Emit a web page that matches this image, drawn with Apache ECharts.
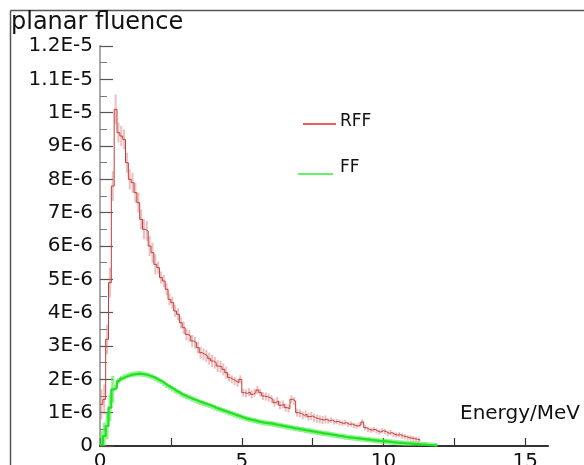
<!DOCTYPE html>
<html>
<head>
<meta charset="utf-8">
<script src="https://cdn.jsdelivr.net/npm/echarts@6.0.0/dist/echarts.min.js"></script>
<style>
  html, body { margin: 0; padding: 0; background: #ffffff; }
  #chart { width: 584px; height: 465px; }
</style>
</head>
<body>
<div id="chart"></div>
<script>
// Histogram bin width in MeV; bins start at 0.
const binWidth = 0.1;
// Values are in units of 1E-6 (planar fluence per bin).
const UNIT = 1e-6;

const rffValues = [
  1.25, 1.4, 3.2, 4.9, 7.8, 10.1, 9.4, 9.3, 9.2, 8.5,
  8.0, 7.9, 7.6, 7.3, 6.8, 6.5, 6.45, 6.0, 5.8, 5.45,
  5.35, 5.05, 4.95, 4.7, 4.4, 4.3, 4.05, 3.95, 3.7, 3.55,
  3.35, 3.3, 3.15, 3.1, 2.95, 2.8, 2.75, 2.7, 2.62, 2.55,
  2.5, 2.4, 2.38, 2.3, 2.2, 2.05, 2.0, 1.95, 1.9, 2.0,
  1.6, 1.58, 1.62, 1.55, 1.6, 1.68, 1.6, 1.5, 1.48, 1.45,
  1.4, 1.3, 1.35, 1.22, 1.25, 1.15, 1.12, 1.4, 1.35, 1.0,
  0.98, 0.92, 0.95, 0.88, 0.9, 0.85, 0.82, 0.8, 0.78, 0.8,
  0.75, 0.78, 0.72, 0.74, 0.7, 0.68, 0.7, 0.65, 0.66, 0.62,
  0.6, 0.63, 0.72, 0.55, 0.5, 0.48, 0.5, 0.45, 0.42, 0.46,
  0.43, 0.38, 0.4, 0.35, 0.33, 0.34, 0.3, 0.28, 0.25, 0.24,
  0.22, 0.2, 0.18
];

const ffValues = [
  0.05, 0.3, 0.6, 1.15, 1.7, 1.75, 1.95, 2.02, 2.07, 2.1,
  2.13, 2.15, 2.16, 2.17, 2.16, 2.15, 2.13, 2.1, 2.07, 2.03,
  1.98, 1.94, 1.88, 1.82, 1.77, 1.72, 1.66, 1.62, 1.56, 1.52,
  1.48, 1.45, 1.41, 1.38, 1.34, 1.31, 1.28, 1.25, 1.22, 1.19,
  1.15, 1.12, 1.09, 1.06, 1.03, 1.0, 0.97, 0.94, 0.91, 0.88,
  0.85, 0.82, 0.8, 0.78, 0.76, 0.74, 0.72, 0.7, 0.69, 0.68,
  0.67, 0.65, 0.63, 0.62, 0.6, 0.58, 0.57, 0.55, 0.53, 0.52,
  0.5, 0.49, 0.47, 0.46, 0.44, 0.43, 0.41, 0.4, 0.38, 0.37,
  0.36, 0.34, 0.33, 0.31, 0.3, 0.29, 0.27, 0.26, 0.25, 0.24,
  0.23, 0.22, 0.21, 0.2, 0.19, 0.18, 0.17, 0.16, 0.15, 0.145,
  0.14, 0.13, 0.12, 0.11, 0.1, 0.095, 0.09, 0.08, 0.075, 0.07,
  0.065, 0.06, 0.05, 0.045, 0.04, 0.03, 0.025, 0.02, 0.01
];

// Error half-widths (units of 1E-6) over ranges of bin indices [from, to).
const rffErrBands = [[0, 6, 0.45], [6, 20, 0.3], [20, 45, 0.18], [45, 80, 0.12], [80, 113, 0.08]];
const ffErrBands = [[0, 5, 0.4], [5, 119, 0.08]];

const xTickValues = [0, 2.5, 5, 7.5, 10, 12.5, 15];
const xLabelValues = [0, 5, 10, 15];
const yTickLabels = ['0', '1E-6', '2E-6', '3E-6', '4E-6', '5E-6', '6E-6',
  '7E-6', '8E-6', '9E-6', '1E-5', '1.1E-5', '1.2E-5'];

const seriesNames = ['RFF', 'FF'];

function stepData(vals) {
  const d = vals.map((v, i) => [i * binWidth, v * UNIT]);
  d.push([vals.length * binWidth, vals[vals.length - 1] * UNIT]);
  return d;
}
function errAt(bands, i) {
  for (const [a, b, e] of bands) if (i >= a && i < b) return e;
  return 0;
}
function errData(vals, bands) {
  return vals.map((v, i) => [(i + 0.5) * binWidth, v * UNIT, errAt(bands, i) * UNIT]);
}
function errSeries(name, vals, bands, color, width) {
  return {
    type: 'custom',
    name: name,
    data: errData(vals, bands),
    encode: { x: 0, y: 1 },
    clip: true,
    silent: true,
    z: 2,
    renderItem: function (params, api) {
      const x = api.value(0), y = api.value(1), e = api.value(2);
      const p1 = api.coord([x, Math.max(0, y - e)]);
      const p2 = api.coord([x, y + e]);
      return {
        type: 'line',
        shape: { x1: p1[0], y1: p1[1], x2: p2[0], y2: p2[1] },
        style: { stroke: color, lineWidth: width }
      };
    }
  };
}

const FONT = 'DejaVu Sans';
const chart = echarts.init(document.getElementById('chart'), null, { renderer: 'canvas' });

chart.setOption({
  backgroundColor: '#ffffff',
  animation: false,
  title: {
    text: 'planar fluence',
    left: 11, top: 11, padding: 0,
    textStyle: { fontFamily: FONT, fontSize: 24, fontWeight: 'normal', color: '#111' }
  },
  grid: { left: 100, right: 36, top: 46, bottom: 19, outerBoundsMode: 'none' },
  xAxis: {
    type: 'value',
    min: 0, max: 15.8,
    axisLine: { show: true, lineStyle: { color: '#333', width: 2 } },
    axisTick: { show: true, inside: true, length: 8, customValues: xTickValues,
      lineStyle: { color: '#333', width: 1.2 } },
    axisLabel: { customValues: xLabelValues, margin: 6, fontFamily: FONT, fontSize: 20, color: '#111',
      formatter: v => String(v) },
    splitLine: { show: false }
  },
  yAxis: {
    type: 'value',
    min: 0, max: 12 * UNIT, interval: UNIT,
    axisLine: { show: true, lineStyle: { color: '#aaa', width: 2 } },
    axisTick: { show: true, inside: true, length: 13, lineStyle: { color: '#555', width: 1.2 } },
    minorTick: { show: true, splitNumber: 2, length: 7, lineStyle: { color: '#777', width: 1 } },
    axisLabel: { margin: 7, fontFamily: FONT, fontSize: 20, color: '#111',
      formatter: v => yTickLabels[Math.round(v / UNIT)] },
    splitLine: { show: false },
    minorSplitLine: { show: false }
  },
  series: [
    errSeries(seriesNames[1], ffValues, ffErrBands, 'rgba(70,235,70,0.6)', 3),
    {
      type: 'line', name: seriesNames[1], data: stepData(ffValues), step: 'end',
      showSymbol: false, z: 3,
      lineStyle: { color: '#22e022', width: 2.2 }
    },
    errSeries(seriesNames[0], rffValues, rffErrBands, 'rgba(215,110,110,0.45)', 2),
    {
      type: 'line', name: seriesNames[0], data: stepData(rffValues), step: 'end',
      showSymbol: false, z: 4,
      lineStyle: { color: '#c43c3c', width: 1 }
    }
  ],
  graphic: [
    // outer frame
    { type: 'line', shape: { x1: 10.5, y1: 10.5, x2: 584, y2: 10.5 }, style: { stroke: '#555', lineWidth: 1.5 } },
    { type: 'line', shape: { x1: 10.5, y1: 10.5, x2: 10.5, y2: 465 }, style: { stroke: '#555', lineWidth: 1.5 } },
    // legend
    { type: 'line', shape: { x1: 303, y1: 124, x2: 336, y2: 124 }, style: { stroke: '#ee2222', lineWidth: 1.5 } },
    { type: 'text', left: 340, top: 113, style: { text: seriesNames[0], fontFamily: FONT, fontSize: 17, fill: '#111' } },
    { type: 'line', shape: { x1: 298, y1: 174, x2: 333, y2: 174 }, style: { stroke: '#33ee33', lineWidth: 1.5 } },
    { type: 'text', left: 340, top: 159, style: { text: seriesNames[1], fontFamily: FONT, fontSize: 17, fill: '#111' } },
    // axis title
    { type: 'text', left: 460, top: 404, style: { text: 'Energy/MeV', fontFamily: FONT, fontSize: 20, fill: '#111' } }
  ]
});
</script>
</body>
</html>
